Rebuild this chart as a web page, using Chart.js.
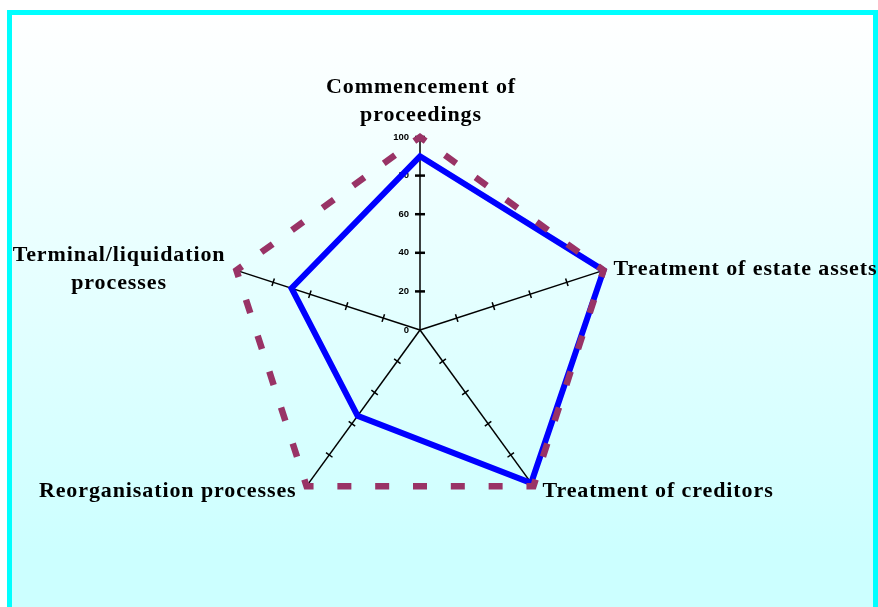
<!DOCTYPE html>
<html>
<head>
<meta charset="utf-8">
<script src="https://cdn.jsdelivr.net/npm/chart.js@4.4.1/dist/chart.umd.min.js"></script>
<style>
  html, body { margin: 0; padding: 0; width: 878px; height: 607px; overflow: hidden; background: #fff; }
  #frame {
    position: absolute; left: 7px; top: 10px; width: 861px; height: 640px;
    border: 5px solid #00ffff;
    background: linear-gradient(#ffffff 0px, #ccffff 540px, #ccffff 100%);
  }
  #chart { position: absolute; left: 0; top: 0; }
</style>
</head>
<body>
<div id="frame"></div>
<canvas id="chart" width="878" height="607"></canvas>
<script>
// axis categories (multi-line labels)
const categories = [
  ['Commencement of', 'proceedings'],
  ['Treatment of estate assets'],
  ['Treatment of creditors'],
  ['Reorganisation processes'],
  ['Terminal/liquidation', 'processes']
];
// series values (0-100)
const seriesSolid = [90, 100, 98, 55, 70];
const seriesDashed = [100, 100, 100, 100, 100];
// tick labels on the vertical axis
const tickValues = [0, 20, 40, 60, 80, 100];

const labelFont = 'bold 22px "Liberation Serif", "Times New Roman", serif';
const tickFont = 'bold 9.5px "Liberation Sans", Arial, sans-serif';

// dash period fitted to the polygon side so every corner gets a dash
function sidePeriod(ctx) {
  const r = ctx.chart.scales.r;
  const side = 2 * r.drawingArea * Math.sin(Math.PI / categories.length);
  return side / 6;
}

// tick marks on spokes, tick labels and axis titles drawn through the radial scale
const spokeDecor = {
  id: 'spokeDecor',
  beforeDatasetsDraw(chart) {
    const ctx = chart.ctx;
    const r = chart.scales.r;
    ctx.save();
    ctx.strokeStyle = '#000';
    for (let i = 0; i < categories.length; i++) {
      const ang = r.getIndexAngle(i);
      const px = Math.cos(ang), py = Math.sin(ang); // perpendicular to spoke
      tickValues.forEach(v => {
        if (v === 0) return;
        if (i !== 0 && v === 100) return;
        const p = r.getPointPositionForValue(i, v);
        const half = i === 0 ? 5 : 4;
        ctx.lineWidth = i === 0 ? 2.5 : 1.5;
        ctx.beginPath();
        ctx.moveTo(p.x - px * half, p.y - py * half);
        ctx.lineTo(p.x + px * half, p.y + py * half);
        ctx.stroke();
      });
    }
    ctx.fillStyle = '#000';
    ctx.font = tickFont;
    ctx.textAlign = 'right';
    ctx.textBaseline = 'middle';
    tickValues.forEach(v => {
      const p = r.getPointPositionForValue(0, v);
      ctx.fillText(String(v), p.x - 11, p.y);
    });
    ctx.restore();
  },
  afterDraw(chart) {
    const ctx = chart.ctx;
    const r = chart.scales.r;
    ctx.save();
    ctx.fillStyle = '#000';
    ctx.font = labelFont;
    ctx.letterSpacing = '0.9px';
    ctx.textBaseline = 'alphabetic';
    const lh = 28.5;
    categories.forEach((lines, i) => {
      const e = r.getPointPosition(i, r.drawingArea);
      if (i === 0) {
        ctx.textAlign = 'center';
        lines.forEach((t, k) => ctx.fillText(t, e.x + 1, e.y - 16 - (lines.length - 1 - k) * lh));
      } else if (i === 1) {
        ctx.textAlign = 'left';
        ctx.fillText(lines[0], e.x + 10, e.y + 5);
      } else if (i === 2) {
        ctx.textAlign = 'left';
        ctx.fillText(lines[0], e.x + 9, e.y + 11);
      } else if (i === 3) {
        ctx.textAlign = 'right';
        ctx.fillText(lines[0], e.x - 10, e.y + 11);
      } else {
        const w = Math.max(...lines.map(t => ctx.measureText(t).width));
        const cx = e.x - 11 - w / 2;
        ctx.textAlign = 'center';
        lines.forEach((t, k) => ctx.fillText(t, cx, e.y - 9.5 + k * lh));
      }
    });
    ctx.restore();
  }
};

new Chart(document.getElementById('chart'), {
  type: 'radar',
  data: {
    labels: categories,
    datasets: [
      {
        data: seriesSolid,
        borderColor: '#0000ff',
        borderWidth: 6,
        borderJoinStyle: 'miter',
        fill: false,
        pointRadius: 0,
        order: 1
      },
      {
        data: seriesDashed,
        borderColor: '#993366',
        borderWidth: 6.5,
        borderDash: ctx => {
          const p = sidePeriod(ctx);
          return [p * 0.37, p * 0.63];
        },
        borderDashOffset: ctx => sidePeriod(ctx) * 0.37 / 2,
        borderCapStyle: 'butt',
        borderJoinStyle: 'miter',
        fill: false,
        pointRadius: 0,
        order: 0
      }
    ]
  },
  options: {
    responsive: false,
    devicePixelRatio: 1,
    animation: false,
    layout: { padding: { left: 220, right: 258, top: 137, bottom: 84 } },
    plugins: { legend: { display: false }, tooltip: { enabled: false } },
    scales: {
      r: {
        min: 0,
        max: 100,
        ticks: { display: false, stepSize: 20 },
        grid: { display: false },
        angleLines: { display: true, color: '#000', lineWidth: 1.5 },
        pointLabels: { display: false }
      }
    }
  },
  plugins: [spokeDecor]
});
</script>
</body>
</html>
